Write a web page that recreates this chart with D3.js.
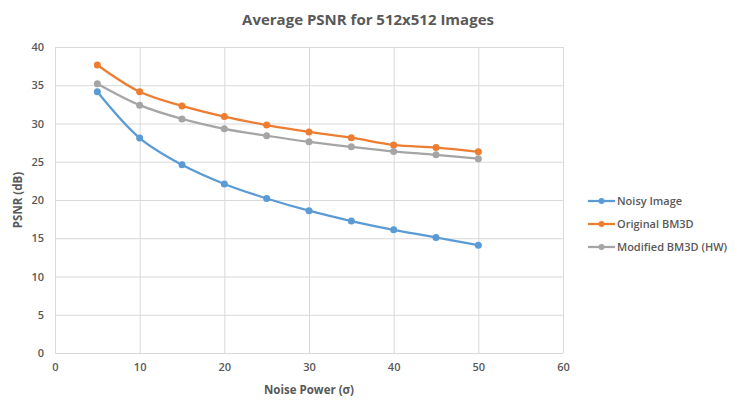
<!DOCTYPE html>
<html>
<head>
<meta charset="utf-8">
<script src="https://cdn.jsdelivr.net/npm/d3@7"></script>
<style>
  body { margin: 0; background: #fff; }
  text { font-family: "Open Sans", "Noto Sans", sans-serif; fill: #595959; }
  .tick text { font-size: 11px; font-weight: 600; }
  .title { font-size: 15px; font-weight: 700; }
  .axis-label { font-size: 11.5px; font-weight: 700; }
  .legend text { font-size: 11px; font-weight: 600; }
</style>
</head>
<body>
<svg width="735" height="400"></svg>
<script>
const svg = d3.select('svg');

// data
const sigma = [5, 10, 15, 20, 25, 30, 35, 40, 45, 50];
const noisy = [34.15, 28.1, 24.6, 22.1, 20.2, 18.6, 17.25, 16.1, 15.1, 14.1];
const bm3d = [37.65, 34.15, 32.3, 30.9, 29.8, 28.9, 28.15, 27.2, 26.85, 26.3];
const bm3dHw = [35.2, 32.4, 30.6, 29.3, 28.4, 27.6, 26.95, 26.35, 25.9, 25.4];
const seriesNames = ['Noisy Image', 'Original BM3D', 'Modified BM3D (HW)'];
const seriesColors = ['#5B9BD5', '#ED7D31', '#A5A5A5'];
const xTicks = [0, 10, 20, 30, 40, 50, 60];
const yTicks = [0, 5, 10, 15, 20, 25, 30, 35, 40];

const series = [noisy, bm3d, bm3dHw].map((vals, i) => ({
  name: seriesNames[i],
  color: seriesColors[i],
  points: vals.map((v, j) => ({ x: sigma[j], y: v }))
}));

const margin = { top: 47, right: 172, bottom: 47, left: 55 };
const innerWidth = 735 - margin.left - margin.right;
const innerHeight = 400 - margin.top - margin.bottom;

const xScale = d3.scaleLinear().domain([0, 60]).range([0, innerWidth]);
const yScale = d3.scaleLinear().domain([0, 40]).range([innerHeight, 0]);

const g = svg.append('g')
  .attr('transform', `translate(${margin.left},${margin.top})`);

// grid
const xAxis = d3.axisBottom(xScale).tickValues(xTicks)
  .tickSize(-innerHeight).tickPadding(10);
const yAxis = d3.axisLeft(yScale).tickValues(yTicks)
  .tickSize(-innerWidth).tickPadding(11);

const xg = g.append('g').attr('transform', `translate(0,${innerHeight})`).call(xAxis);
const yg = g.append('g').call(yAxis);
[xg, yg].forEach(a => {
  a.select('.domain').remove();
  a.selectAll('.tick line').attr('stroke', '#d9d9d9').attr('stroke-width', 1);
});

// chart lines
const line = d3.line()
  .x(d => xScale(d.x))
  .y(d => yScale(d.y))
  .curve(d3.curveCatmullRom.alpha(0.5));

series.forEach(s => {
  g.append('path')
    .datum(s.points)
    .attr('fill', 'none')
    .attr('stroke', s.color)
    .attr('stroke-width', 2.25)
    .attr('d', line);
  g.selectAll(null)
    .data(s.points)
    .enter()
    .append('circle')
    .attr('cx', d => xScale(d.x))
    .attr('cy', d => yScale(d.y))
    .attr('r', 3.5)
    .attr('fill', s.color);
});

// titles
svg.append('text')
  .attr('class', 'title')
  .attr('x', 368)
  .attr('y', 25)
  .attr('text-anchor', 'middle')
  .text('Average PSNR for 512x512 Images');

svg.append('text')
  .attr('class', 'axis-label')
  .attr('x', margin.left + innerWidth / 2)
  .attr('y', 394)
  .attr('text-anchor', 'middle')
  .text('Noise Power (σ)');

svg.append('text')
  .attr('class', 'axis-label')
  .attr('transform', `translate(22,${margin.top + innerHeight / 2}) rotate(-90)`)
  .attr('text-anchor', 'middle')
  .text('PSNR (dB)');

// legend
const legend = svg.append('g').attr('class', 'legend')
  .attr('transform', 'translate(588,201)');
series.forEach((s, i) => {
  const row = legend.append('g').attr('transform', `translate(0,${i * 23})`);
  row.append('line').attr('x1', 0).attr('x2', 27)
    .attr('stroke', s.color).attr('stroke-width', 2.25);
  row.append('circle').attr('cx', 13.5).attr('r', 3).attr('fill', s.color);
  row.append('text').attr('x', 29).attr('dy', '0.35em').text(s.name);
});
</script>
</body>
</html>
